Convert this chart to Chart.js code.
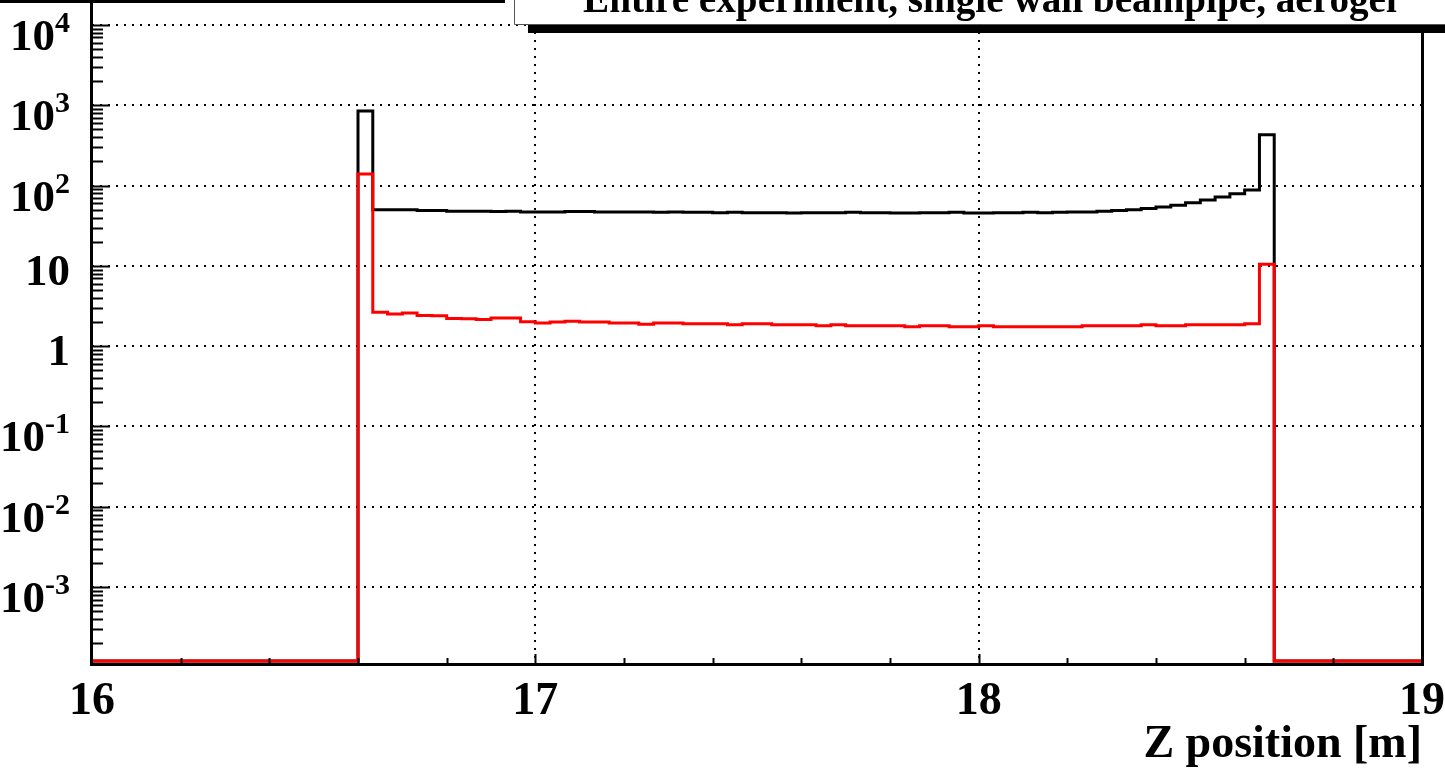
<!DOCTYPE html>
<html>
<head>
<meta charset="utf-8">
<script src="https://cdn.jsdelivr.net/npm/chart.js@4.4.1/dist/chart.umd.min.js"></script>
<style>
  html, body { margin: 0; padding: 0; background: #fff; }
  canvas { display: block; }
</style>
</head>
<body>
<canvas id="zChart" width="1445" height="770"></canvas>
<script>
// histogram setup
const plotTitle = 'Entire experiment, single wall beampipe, aerogel';
const xTitle = 'Z position [m]';
const xRange = [16, 19];
const nBins = 90;
const xLabelTicks = [16, 17, 18, 19];
const yDecades = [-3, -2, -1, 0, 1, 2, 3, 4];
const yRange = [1.2e-4, 2.05e4];

// black: all hits per bin
const allHits = [
  0, 0, 0, 0, 0, 0, 0, 0, 0, 0, 0, 0, 0, 0, 0, 0, 0, 0,
  850,
  50, 50, 50, 49, 49, 48, 48, 48, 47.5, 48,
  47, 47, 47, 47.5, 47.5, 47, 47, 47, 47, 46.5,
  47, 46.5, 46.5, 46, 46.5, 46, 46, 46, 45.5, 46,
  46, 46, 46.5, 46, 46, 45.5, 45.5, 46, 46, 46.5,
  45.5, 45.5, 46, 46, 46.5, 46, 46.5, 47, 47, 48,
  49, 50, 52, 54, 57, 61, 66, 72, 79, 88,
  430,
  0, 0, 0, 0, 0, 0, 0, 0, 0, 0
];

// red: selected hits per bin
const selectedHits = [
  0, 0, 0, 0, 0, 0, 0, 0, 0, 0, 0, 0, 0, 0, 0, 0, 0, 0,
  140,
  2.65, 2.52, 2.6, 2.41, 2.4, 2.21, 2.2, 2.15, 2.25, 2.25,
  2.01, 1.95, 2.0, 2.05, 2.0, 2.0, 1.95, 1.95, 1.88, 1.95,
  1.95, 1.9, 1.9, 1.9, 1.85, 1.9, 1.9, 1.85, 1.85, 1.85,
  1.8, 1.85, 1.8, 1.8, 1.8, 1.8, 1.75, 1.8, 1.8, 1.75,
  1.75, 1.8, 1.75, 1.75, 1.75, 1.75, 1.75, 1.75, 1.8, 1.8,
  1.8, 1.8, 1.85, 1.8, 1.8, 1.85, 1.85, 1.85, 1.85, 1.9,
  10.5,
  0, 0, 0, 0, 0, 0, 0, 0, 0, 0
];

const binEdges = Array.from({ length: nBins + 1 }, (_, i) => xRange[0] + i * (xRange[1] - xRange[0]) / nBins);

// empty bins sit on the bottom of the frame, like ROOT does on a log axis
function histPoints(contents) {
  const pts = contents.map((c, i) => ({ x: binEdges[i], y: c > 0 ? c : yRange[0] }));
  pts.push({ x: binEdges[nBins], y: pts[nBins - 1].y });
  return pts;
}

const serif = '"Liberation Serif", "Times New Roman", serif';

const rootFrame = {
  id: 'rootFrame',
  afterDatasetsDraw(chart) {
    const { ctx, chartArea: a, scales } = chart;
    const xs = scales.x, ys = scales.y;
    ctx.save();
    ctx.fillStyle = '#000';
    ctx.strokeStyle = '#000';
    ctx.lineWidth = 2;

    // y ticks inside the frame
    for (let d = -4; d <= 4; d++) {
      for (let m = 1; m <= 9; m++) {
        const v = m * Math.pow(10, d);
        if (v < yRange[0] || v > yRange[1]) continue;
        const y = Math.round(ys.getPixelForValue(v)) + 0.5;
        const len = m === 1 ? 18 : 11;
        ctx.beginPath();
        ctx.moveTo(a.left, y);
        ctx.lineTo(a.left + len, y);
        ctx.stroke();
      }
    }
    // x ticks inside the frame
    for (let t = 162; t < 190; t += 2) {
      const v = t / 10;
      const x = Math.round(xs.getPixelForValue(v)) + 0.5;
      const len = t % 10 === 0 ? 9 : 5;
      ctx.beginPath();
      ctx.moveTo(x, a.bottom + 2);
      ctx.lineTo(x, a.bottom + 2 - len);
      ctx.stroke();
    }

    // frame
    ctx.fillRect(a.left - 2, 0, 3, a.bottom + 5);
    ctx.fillRect(a.right - 1, 0, 3, a.bottom + 5);
    ctx.fillRect(a.left - 2, a.bottom + 2, a.right - a.left + 4, 3);

    // y labels with exponents
    ctx.textAlign = 'left';
    ctx.textBaseline = 'alphabetic';
    const rightEdge = 70;
    yDecades.forEach(e => {
      const y = ys.getPixelForValue(Math.pow(10, e));
      if (e === 0 || e === 1) {
        const base = e === 0 ? '1' : '10';
        ctx.font = 'bold 45px ' + serif;
        const w = ctx.measureText(base).width;
        ctx.fillText(base, rightEdge - w, y + 19);
      } else {
        const exp = String(e);
        ctx.font = 'bold 30px ' + serif;
        const ew = ctx.measureText(exp).width;
        ctx.fillText(exp, rightEdge - ew, y + 7);
        ctx.font = 'bold 45px ' + serif;
        const bw = ctx.measureText('10').width;
        ctx.fillText('10', rightEdge - ew - bw, y + 25);
      }
    });
    ctx.restore();
  },
  afterDraw(chart) {
    const { ctx } = chart;
    ctx.save();
    // line of the pad above
    ctx.fillStyle = '#000';
    ctx.fillRect(0, 0, 505, 3);
    // title pave with shadow
    ctx.fillStyle = '#000';
    ctx.fillRect(528, 24, 1445 - 528, 9);
    ctx.fillStyle = '#fff';
    ctx.fillRect(514, -5, 1445 - 514, 29);
    ctx.strokeStyle = '#555';
    ctx.lineWidth = 1;
    ctx.beginPath();
    ctx.moveTo(514.5, 0);
    ctx.lineTo(514.5, 24.5);
    ctx.lineTo(1445, 24.5);
    ctx.stroke();
    ctx.fillStyle = '#000';
    ctx.font = 'bold 40px ' + serif;
    const w = ctx.measureText(plotTitle).width;
    const size = 40 * 815 / w;
    ctx.font = 'bold ' + size.toFixed(1) + 'px ' + serif;
    ctx.textAlign = 'center';
    ctx.textBaseline = 'alphabetic';
    ctx.fillText(plotTitle, 990, 12);
    ctx.restore();
  }
};

const ctx = document.getElementById('zChart').getContext('2d');
new Chart(ctx, {
  type: 'line',
  data: {
    datasets: [
      {
        label: 'selected',
        data: histPoints(selectedHits),
        borderColor: '#ff0000',
        borderWidth: 3,
        stepped: 'before',
        pointRadius: 0,
        fill: false,
        borderJoinStyle: 'miter',
        clip: false
      },
      {
        label: 'all',
        data: histPoints(allHits),
        borderColor: '#000000',
        borderWidth: 3,
        stepped: 'before',
        pointRadius: 0,
        fill: false,
        borderJoinStyle: 'miter',
        clip: false
      }
    ]
  },
  options: {
    responsive: false,
    animation: false,
    events: [],
    layout: { padding: 0 },
    plugins: {
      legend: { display: false },
      tooltip: { enabled: false },
      title: { display: false }
    },
    scales: {
      x: {
        type: 'linear',
        min: xRange[0],
        max: xRange[1],
        afterBuildTicks: s => { s.ticks = xLabelTicks.map(v => ({ value: v })); },
        afterFit: s => { s.height = 109; s.paddingLeft = 0; s.paddingRight = 23; },
        ticks: {
          color: '#000',
          font: { family: serif, size: 46, weight: 'bold' },
          padding: 14,
          maxRotation: 0,
          autoSkip: false,
          callback: v => String(v)
        },
        grid: {
          drawTicks: false,
          lineWidth: 2,
          color: c => (c.tick && (c.tick.value === 17 || c.tick.value === 18)) ? '#000' : 'rgba(0,0,0,0)'
        },
        border: { display: false, dash: [2, 6] },
        title: {
          display: true,
          text: xTitle,
          align: 'end',
          color: '#000',
          font: { family: serif, size: 46, weight: 'bold', lineHeight: 1.1 },
          padding: 0
        }
      },
      y: {
        type: 'logarithmic',
        min: yRange[0],
        max: yRange[1],
        afterBuildTicks: s => { s.ticks = yDecades.map(e => ({ value: Math.pow(10, e), major: true })); },
        afterFit: s => { s.width = 92; },
        ticks: { display: false },
        grid: { drawTicks: false, lineWidth: 2, color: '#000' },
        border: { display: false, dash: [2, 6] }
      }
    }
  },
  plugins: [rootFrame]
});
</script>
</body>
</html>
